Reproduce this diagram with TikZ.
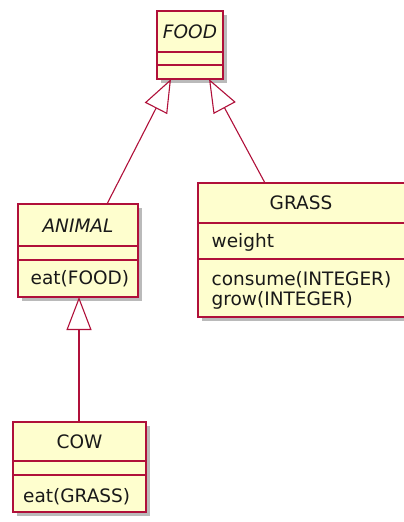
\documentclass[tikz,border=0pt]{standalone}
\usepackage{fontspec}
\setmainfont{DejaVu Sans}
\usetikzlibrary{calc,shadows,arrows.meta}
\definecolor{umlfill}{HTML}{FEFECE}
\definecolor{umlline}{HTML}{B0103A}
\begin{document}
\begin{tikzpicture}[x=1pt,y=-1pt,
  classbox/.style={draw=umlline, line width=1.4pt, fill=umlfill, inner sep=0pt, outer sep=0pt, anchor=north west,
    drop shadow={shadow xshift=4pt, shadow yshift=-4pt, fill=black!60, opacity=0.45}},
  divider/.style={draw=umlline, line width=1.4pt},
  txt/.style={font=\fontsize{18.5}{22}\selectfont, text=black!90, inner sep=0pt},
  lefttxt/.style={txt, anchor=west},
  inherit/.style={draw=umlline, line width=1.1pt, -{Triangle[open, length=33pt, width=25pt, line width=1.1pt]}}
]
\useasboundingbox (0,0) rectangle (404,522);
\fill[white] (0,0) rectangle (404,522);

% FOOD
\node[classbox, minimum width=66pt, minimum height=68pt] (food) at (157,11) {};
\draw[divider] ($(food.north west)+(0,41)$) -- ($(food.north east)+(0,41)$);
\draw[divider] ($(food.north west)+(0,54)$) -- ($(food.north east)+(0,54)$);
\node[txt, font=\fontsize{18.5}{22}\selectfont\itshape] (foodname) at (190,31.5) {FOOD};

% ANIMAL
\node[classbox, minimum width=120pt, minimum height=93pt] (animal) at (18,204) {};
\draw[divider] ($(animal.north west)+(0,42)$) -- ($(animal.north east)+(0,42)$);
\draw[divider] ($(animal.north west)+(0,56)$) -- ($(animal.north east)+(0,56)$);
\node[txt, font=\fontsize{18.5}{22}\selectfont\itshape] (animalname) at (78,226) {ANIMAL};
\node[lefttxt] (animaleat) at (30.5,279) {eat(FOOD)};

% GRASS
\node[classbox, minimum width=212pt, minimum height=134pt] (grass) at (198,183) {};
\draw[divider] ($(grass.north west)+(0,40)$) -- ($(grass.north east)+(0,40)$);
\draw[divider] ($(grass.north west)+(0,76)$) -- ($(grass.north east)+(0,76)$);
\node[txt] (grassname) at (301,203) {GRASS};
\node[lefttxt] (grassweight) at (211.5,242) {weight};
\node[lefttxt] (grassconsume) at (211.5,280) {consume(INTEGER)};
\node[lefttxt] (grassgrow) at (211.5,300) {grow(INTEGER)};

% COW
\node[classbox, minimum width=133pt, minimum height=90pt] (cow) at (13,422) {};
\draw[divider] ($(cow.north west)+(0,39)$) -- ($(cow.north east)+(0,39)$);
\draw[divider] ($(cow.north west)+(0,53)$) -- ($(cow.north east)+(0,53)$);
\node[txt] (cowname) at (79.5,442) {COW};
\node[lefttxt] (coweat) at (23,497) {eat(GRASS)};

% inheritance
\draw[inherit] ($(animal.north west)+(89,0)$) -- ($(food.south west)+(14,0)$);
\draw[inherit] ($(grass.north west)+(67,0)$) -- ($(food.south west)+(52,0)$);
\draw[inherit] ($(cow.north west)+(66,0)$) -- ($(animal.south west)+(61,0)$);
\end{tikzpicture}
\end{document}
